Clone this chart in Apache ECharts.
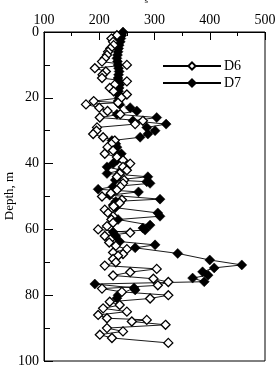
<!DOCTYPE html>
<html><head><meta charset="utf-8">
<script src="https://cdn.jsdelivr.net/npm/echarts@6/dist/echarts.min.js"></script>
<style>html,body{margin:0;padding:0;background:#fff}#c{width:276px;height:368px}</style>
</head><body><div id="c"></div>
<script>
// depths (m) and shear-wave velocities for D6
const d6Depth = [1,2,3,4,5,6,7,8,9,10,11,12,13,14,15,16,17,18,19,20,21,21.5,22,23,24,25,26,27,28,29,30,31,32,33,34,35,36,37,38,39,40,41,42,43,44,45,46,47,48,49,50,51,52,53,54,55,56,57,58,59,60,61,62,63,64,65,66,67,67.5,68,69,70,71,72,73,74,75,76,77,78,79,80,81,82,83,84,85,86,87,87.5,88,89,90,91,92,93,94.5];
const d6Vel   = [232,222,225,226,220,216,214,210,205,250,192,212,206,205,250,228,219,226,250,240,190,234,176,200,215,238,201,279,265,196,195,189,207,228,222,215,225,210,232,243,256,243,250,237,232,245,243,238,232,221,205,241,237,226,210,216,225,222,225,214,198,256,210,220,218,230,250,225,243,234,225,230,210,304,256,225,298,325,306,205,241,325,292,219,237,207,250,198,214,286,259,320,214,243,201,223,325];
// depths (m) and shear-wave velocities for D7
const d7Depth = [0,1,2,3,4,5,6,7,8,9,10,11,12,13,14,15,16,17,18,19,20,21,22,23,24,25,26,27,28,29,30,31,32,33,34,35,36,37,38,39,40,41,42,43,44,45,45.5,46,47,47.8,48.6,49.6,50.8,51.5,52.6,53.4,55,56,57,58.7,59.6,60.2,60.8,62,63.7,64.7,65.6,67.3,69.3,70.8,71.7,72.9,73.9,74.8,75.9,76.6,77.8,78.4,80,80.9];
const d7Vel   = [243,241,239,238,236,235,234,233,232,233,234,235,236,235,234,236,237,236,235,234,236,234,237,256,268,232,304,261,321,286,301,288,274,223,230,232,228,240,237,232,225,214,240,214,288,229,286,292,225,198,271,219,310,230,225,229,306,310,234,292,279,283,225,230,237,301,265,342,400,458,408,387,397,369,390,192,263,265,234,232];
const xTicks = [100,200,300,400,500];
const yTicks = [0,20,40,60,80,100];

const pairs = (d, v) => d.map((dd, i) => [v[i], dd]);
const font = '"Liberation Serif", "Times New Roman", Times, serif';
const chart = echarts.init(document.getElementById('c'), null, {renderer:'canvas'});
chart.setOption({
  animation:false,
  backgroundColor:'#fff',
  textStyle:{fontFamily:font},
  grid:{left:44, right:11, top:32, bottom:7, containLabel:false, outerBoundsMode:'none', show:true, borderColor:'#000', borderWidth:1},
  graphic:[
    {type:'text', left:135, top:-11, style:{text:'V{s|s}', rich:{s:{fontSize:9, fontFamily:font, verticalAlign:'bottom', padding:[10,0,0,0]}}, fontFamily:font, fontSize:13, fill:'#000'}},
    {type:'text', x:10, y:196, rotation:Math.PI/2, style:{text:'Depth, m', fontFamily:font, fontSize:13, fill:'#000', align:'center', verticalAlign:'middle'}}
  ],
  legend:{
    data:['D6','D7'], orient:'vertical', left:157, top:54,
    itemWidth:58, itemHeight:9, itemGap:3,
    textStyle:{fontFamily:font, fontSize:14, color:'#000', padding:[0,0,0,-2]}
  },
  xAxis:{
    type:'value', position:'top', min:xTicks[0], max:xTicks[xTicks.length-1], interval:100,
    axisLine:{lineStyle:{color:'#000', width:1}},
    axisTick:{inside:true, length:8, lineStyle:{color:'#000'}},
    minorTick:{show:true, splitNumber:2, length:4, lineStyle:{color:'#000'}},
    axisLabel:{fontFamily:font, fontSize:14, color:'#000', margin:5},
    splitLine:{show:false}
  },
  yAxis:{
    type:'value', inverse:true, min:yTicks[0], max:yTicks[yTicks.length-1], interval:20,
    axisLine:{lineStyle:{color:'#000', width:1}},
    axisTick:{inside:true, length:9, lineStyle:{color:'#000'}},
    minorTick:{show:true, splitNumber:2, length:6, lineStyle:{color:'#000'}},
    axisLabel:{fontFamily:font, fontSize:14, color:'#000', margin:5},
    splitLine:{show:false}
  },
  series:[
    {name:'D6', type:'line', data:pairs(d6Depth,d6Vel), symbol:'diamond', symbolSize:9,
     lineStyle:{color:'#000', width:0.9}, itemStyle:{color:'#fff', borderColor:'#000', borderWidth:1.3}, z:3},
    {name:'D7', type:'line', data:pairs(d7Depth,d7Vel), symbol:'diamond', symbolSize:10,
     lineStyle:{color:'#000', width:0.9}, itemStyle:{color:'#000', borderColor:'#000', borderWidth:0.5}, z:2}
  ]
});
</script></body></html>
